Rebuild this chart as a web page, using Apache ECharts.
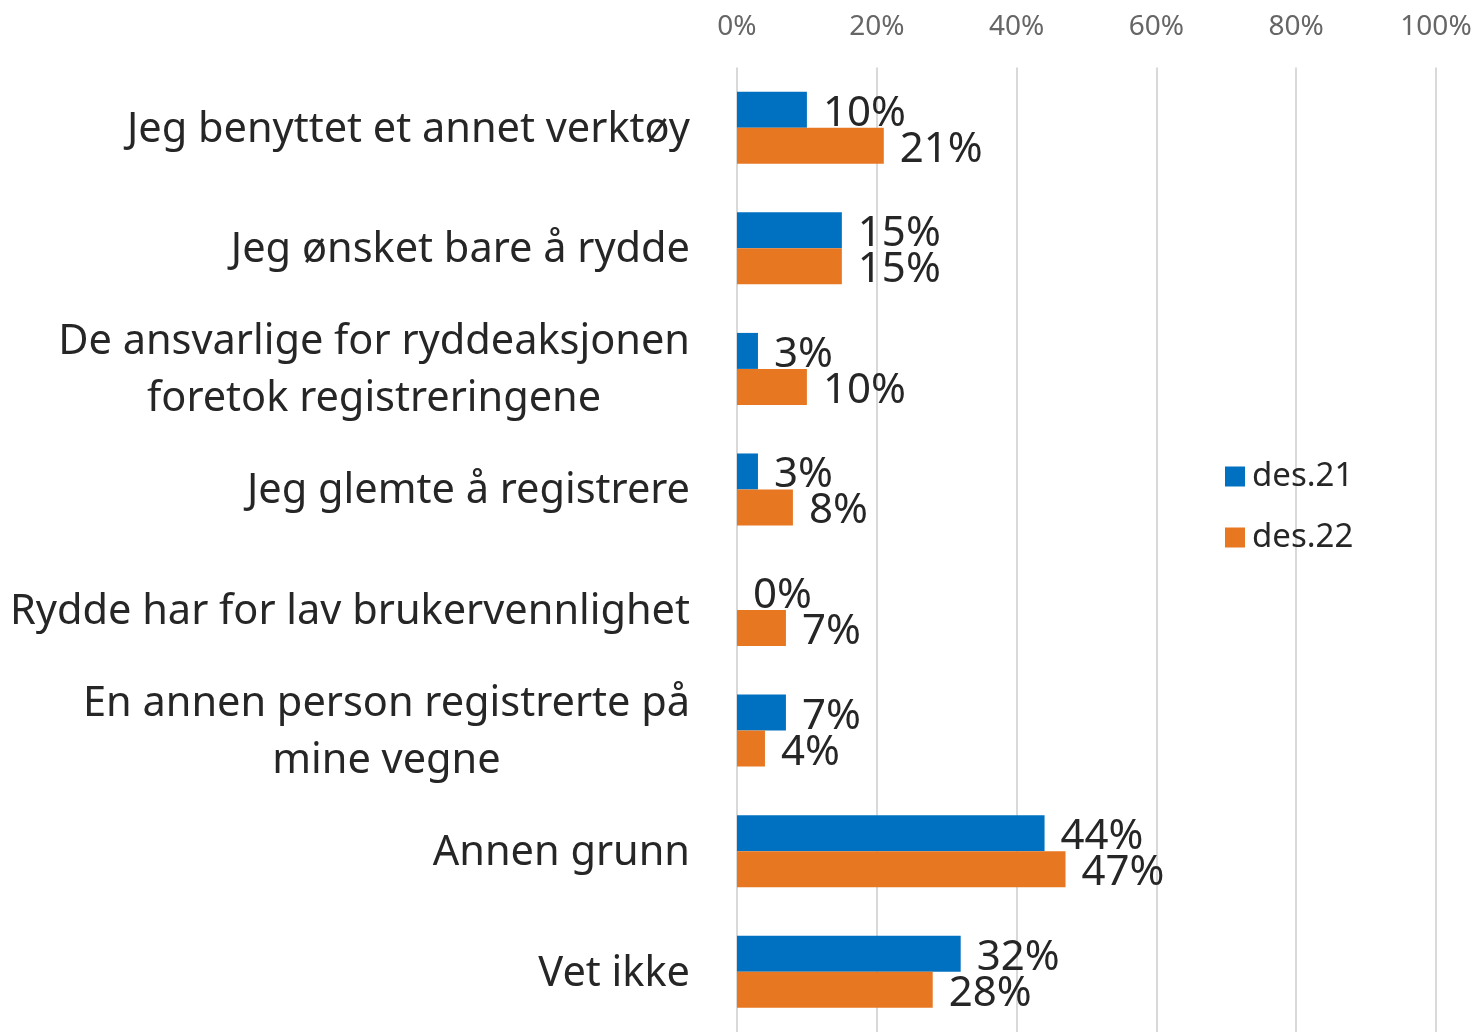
<!DOCTYPE html>
<html>
<head>
<meta charset="utf-8">
<script src="https://cdn.jsdelivr.net/npm/echarts@6/dist/echarts.min.js"></script>
<style>
  html, body { margin: 0; padding: 0; background: #fff; }
  #mychart { width: 1475px; height: 1032px; }
</style>
</head>
<body>
<div id="mychart"></div>
<script>
// kategorier, ovenfra og ned
const categories = [
  'Jeg benyttet et annet verktøy',
  'Jeg ønsket bare å rydde',
  'De ansvarlige for ryddeaksjonen\nforetok registreringene',
  'Jeg glemte å registrere',
  'Rydde har for lav brukervennlighet',
  'En annen person registrerte på\nmine vegne',
  'Annen grunn',
  'Vet ikke'
];
const des21 = [10, 15, 3, 3, 0, 7, 44, 32];
const des22 = [21, 15, 10, 8, 7, 4, 47, 28];
const seriesNames = ['des.21', 'des.22'];

const FONT = '"Noto Sans", "Open Sans", sans-serif';
const TEXT = '#262626';

const labelStyle = {
  show: true,
  position: 'right',
  distance: 16,
  offset: [0, 4],
  formatter: '{c}%',
  fontFamily: FONT,
  fontSize: 42,
  color: TEXT
};

const option = {
  animation: false,
  legend: {
    orient: 'vertical',
    left: 1220,
    top: 455,
    itemWidth: 20,
    itemHeight: 20,
    itemGap: 28,
    icon: 'rect',
    textStyle: { fontFamily: FONT, fontSize: 33, color: TEXT, padding: [0, 0, 0, 2] },
    data: seriesNames
  },
  grid: {
    left: 737,
    top: 67.5,
    width: 699,
    height: 969
  },
  xAxis: {
    type: 'value',
    position: 'top',
    min: 0,
    max: 100,
    interval: 20,
    axisLine: { show: false },
    axisTick: { show: false },
    axisLabel: {
      formatter: '{value}%',
      fontFamily: FONT,
      fontSize: 28,
      color: '#666666',
      margin: 26
    },
    splitLine: { show: true, lineStyle: { color: '#d9d9d9', width: 2 } }
  },
  yAxis: {
    type: 'category',
    inverse: true,
    data: categories,
    axisLine: { show: false },
    axisTick: { show: false },
    axisLabel: {
      margin: 47,
      formatter: function (v) {
        return v.split('\n').map(l => '{c|' + l + '}').join('\n');
      },
      rich: {
        c: { align: 'center', fontFamily: FONT, fontSize: 41.5, lineHeight: 57, color: TEXT, padding: [4, 0, 0, 0] }
      }
    }
  },
  series: [
    {
      name: seriesNames[0],
      type: 'bar',
      data: des21,
      barWidth: 36,
      barGap: '0%',
      itemStyle: { color: '#0070C0' },
      label: labelStyle
    },
    {
      name: seriesNames[1],
      type: 'bar',
      data: des22,
      barWidth: 36,
      barGap: '0%',
      itemStyle: { color: '#E87722' },
      label: labelStyle
    }
  ]
};

const myChart = echarts.init(document.getElementById('mychart'));
myChart.setOption(option);
</script>
</body>
</html>
